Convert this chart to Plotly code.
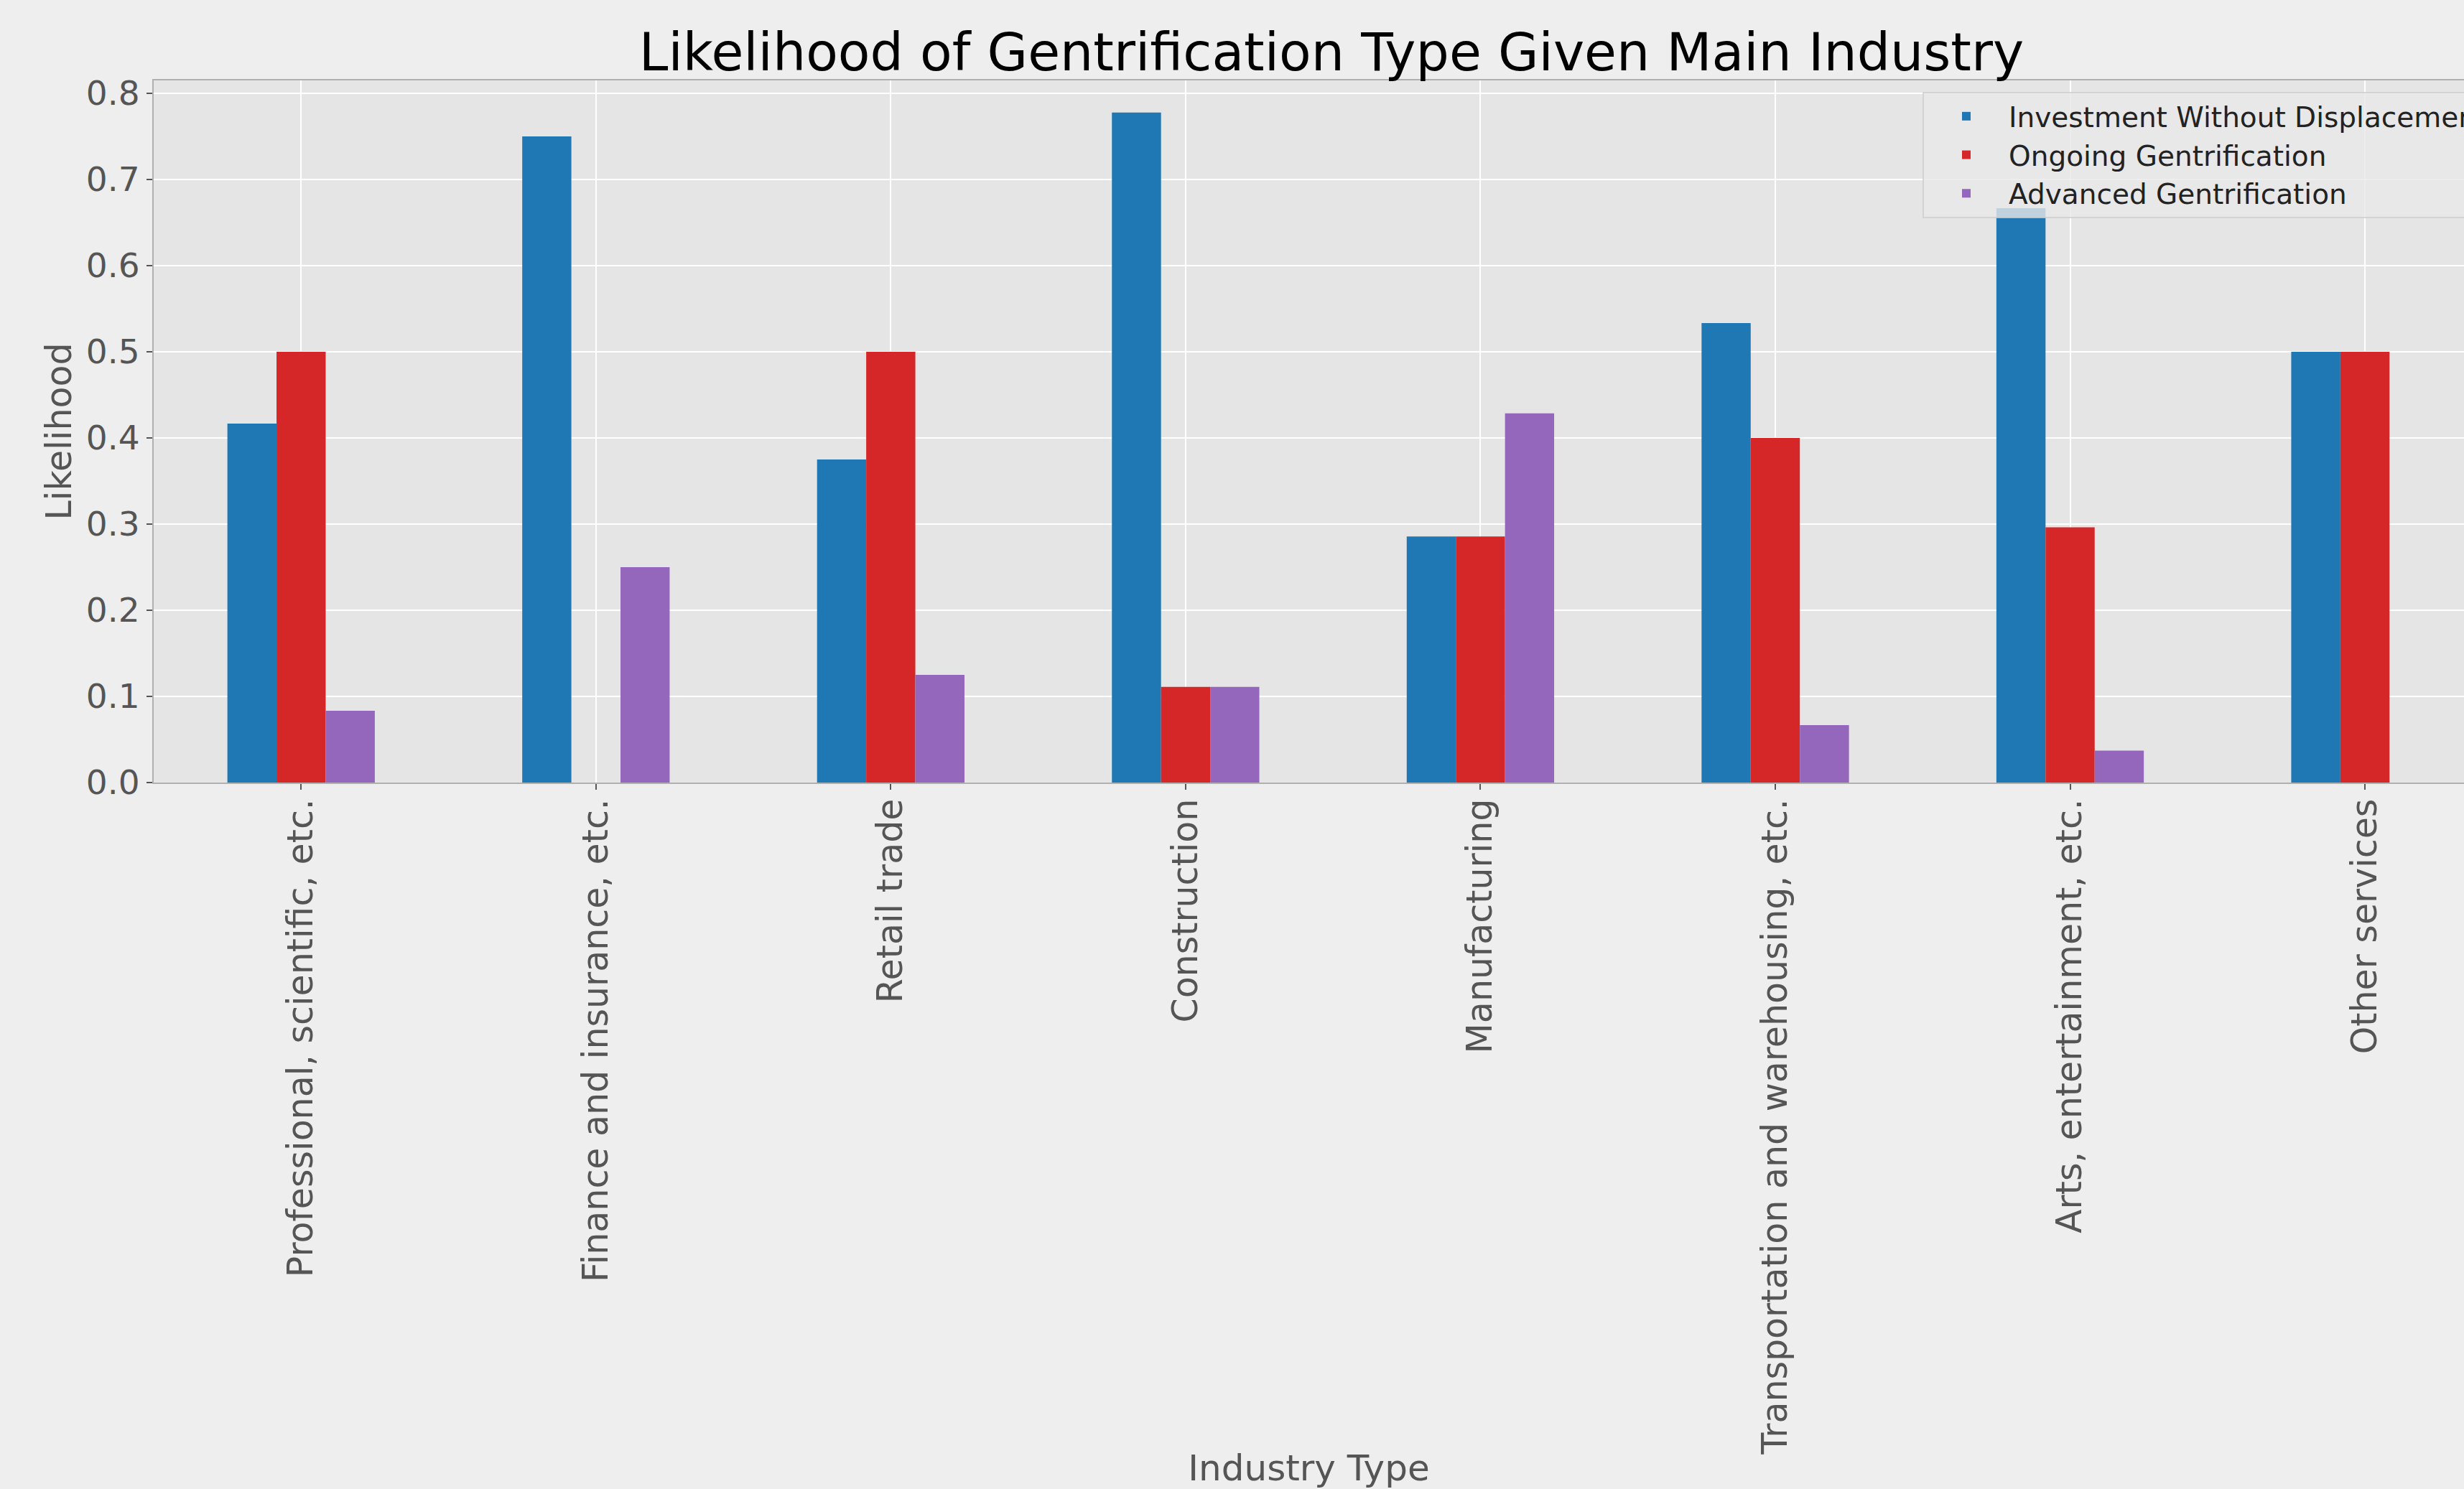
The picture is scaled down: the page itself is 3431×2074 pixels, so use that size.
import plotly.graph_objects as go

industries = [
    "Professional, scientific, etc.",
    "Finance and insurance, etc.",
    "Retail trade",
    "Construction",
    "Manufacturing",
    "Transportation and warehousing, etc.",
    "Arts, entertainment, etc.",
    "Other services",
]
investment_without_displacement = [0.4167, 0.75, 0.375, 0.7778, 0.2857, 0.5333, 0.6667, 0.5]
ongoing_gentrification = [0.5, 0.0, 0.5, 0.1111, 0.2857, 0.4, 0.2963, 0.5]
advanced_gentrification = [0.0833, 0.25, 0.125, 0.1111, 0.4286, 0.0667, 0.0370, 0.0]
y_ticks = [0.0, 0.1, 0.2, 0.3, 0.4, 0.5, 0.6, 0.7, 0.8]

W, H = 3431, 2074
L, R, T, B = 214, 0, 112, 984
FONT = "DejaVu Sans"
GREY = "#555555"

fig = go.Figure()
for name, vals, col in [
    ("Investment Without Displacement", investment_without_displacement, "#1f77b4"),
    ("Ongoing Gentrification", ongoing_gentrification, "#d62728"),
    ("Advanced Gentrification", advanced_gentrification, "#9467bd"),
]:
    fig.add_trace(go.Bar(x=industries, y=vals, name=name,
                         marker=dict(color=col, line=dict(width=0))))

fig.update_layout(
    width=W, height=H,
    margin=dict(l=L, r=R, t=T, b=B, autoexpand=False),
    paper_bgcolor="#eeeeee",
    plot_bgcolor="#e5e5e5",
    font=dict(family=FONT, color=GREY, size=46),
    barmode="group", bargap=0.5, bargroupgap=0.0,
    title=dict(text="Likelihood of Gentrification Type Given Main Industry",
               font=dict(family=FONT, size=73, color="#000000"),
               x=1854 / W, xref="container", xanchor="center",
               y=1 - 72 / H, yref="container", yanchor="middle"),
    legend=dict(x=(2677 - L) / (W - L - R), y=(H - B - 128) / (H - B - T),
                xanchor="left", yanchor="top",
                bgcolor="rgba(232,232,232,0.8)", bordercolor="rgba(205,205,205,0.8)",
                borderwidth=2, itemwidth=108,
                font=dict(family=FONT, size=39, color="#222222")),
    showlegend=True,
)
fig.update_xaxes(
    range=[-0.5, 7.336], type="category",
    tickangle=-90, tickfont=dict(size=49, color=GREY),
    ticklabelstandoff=-7,
    showgrid=True, gridcolor="#ffffff", gridwidth=2,
    ticks="outside", ticklen=8, tickwidth=2, tickcolor=GREY,
    showline=True, mirror=True, linecolor="#b0b0b0", linewidth=2,
    title=dict(text="Industry Type", font=dict(size=50, color=GREY), standoff=12),
    automargin=False,
)
fig.update_yaxes(
    range=[0, 0.815], tickvals=y_ticks, tickformat=".1f",
    tickfont=dict(size=47, color=GREY),
    showgrid=True, gridcolor="#ffffff", gridwidth=2, zeroline=False,
    ticks="outside", ticklen=8, tickwidth=2, tickcolor=GREY,
    showline=True, mirror=False, linecolor="#b0b0b0", linewidth=2,
    title=dict(text="Likelihood", font=dict(size=49, color=GREY), standoff=5),
    automargin=False,
)

fig.write_html(
    "out.html",
    config={"displayModeBar": False},
    post_script="document.body.style.margin='0';document.body.style.background='#eeeeee';",
)
